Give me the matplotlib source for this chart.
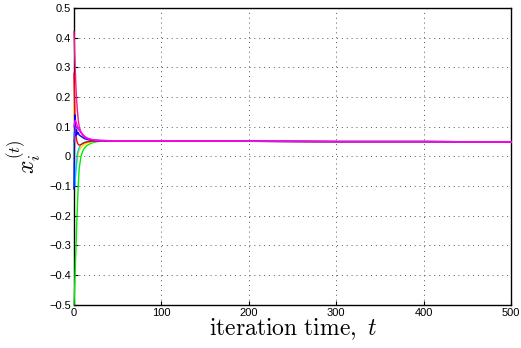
import matplotlib
matplotlib.use("Agg")
import matplotlib.pyplot as plt

plt.rcParams['mathtext.fontset'] = 'cm'
plt.rcParams['font.family'] = ['Liberation Sans', 'DejaVu Sans']

# iteration steps (sampled) and the trajectories of each node's estimate
t = [0, 1, 2, 3, 4, 5, 6, 8, 10, 12, 15, 20, 25, 30, 40, 60, 100, 200, 300, 400, 500]

x_green   = [-0.50, -0.42, -0.33, -0.24, -0.16, -0.09, -0.04, 0.000, 0.018, 0.028, 0.037, 0.045, 0.049, 0.051, 0.052, 0.052, 0.052, 0.051, 0.050, 0.050, 0.049]
x_pink    = [0.42, 0.33, 0.25, 0.19, 0.15, 0.12, 0.100, 0.082, 0.072, 0.065, 0.060, 0.056, 0.054, 0.053, 0.052, 0.052, 0.052, 0.051, 0.050, 0.050, 0.049]
x_yellow  = [0.17, 0.06, 0.00, -0.03, -0.01, 0.010, 0.020, 0.030, 0.036, 0.040, 0.045, 0.049, 0.051, 0.052, 0.052, 0.052, 0.052, 0.051, 0.050, 0.050, 0.049]
x_cyan    = [0.08, -0.10, -0.06, -0.02, 0.010, 0.022, 0.030, 0.040, 0.045, 0.048, 0.050, 0.051, 0.052, 0.052, 0.052, 0.052, 0.052, 0.051, 0.050, 0.050, 0.049]
x_blue    = [-0.11, 0.14, 0.07, 0.09, 0.075, 0.08, 0.072, 0.068, 0.064, 0.060, 0.057, 0.054, 0.053, 0.053, 0.052, 0.052, 0.052, 0.051, 0.050, 0.050, 0.049]
x_red     = [0.28, 0.14, 0.08, 0.055, 0.045, 0.040, 0.038, 0.040, 0.043, 0.046, 0.049, 0.051, 0.052, 0.052, 0.052, 0.052, 0.052, 0.051, 0.050, 0.050, 0.049]
x_magenta = [0.10, 0.12, 0.12, 0.11, 0.10, 0.095, 0.090, 0.082, 0.075, 0.068, 0.062, 0.057, 0.055, 0.054, 0.053, 0.052, 0.052, 0.051, 0.050, 0.050, 0.049]
x_violet  = [0.05, 0.08, 0.10, 0.10, 0.095, 0.092, 0.088, 0.080, 0.072, 0.066, 0.061, 0.057, 0.055, 0.054, 0.053, 0.052, 0.052, 0.051, 0.050, 0.050, 0.049]

series = [
    (x_green, '#00ee00'),
    (x_yellow, '#ffdd00'),
    (x_cyan, '#00ccff'),
    (x_red, '#ff0000'),
    (x_blue, '#0000ff'),
    (x_violet, '#8a2be2'),
    (x_pink, '#ff1493'),
    (x_magenta, '#ff00ff'),
]

fig = plt.figure(figsize=(5.21, 3.48), dpi=100)
ax = fig.add_axes([0.142, 0.124, 0.839, 0.853])

for y, c in series:
    ax.plot(t, y, color=c, lw=1.0, zorder=3, clip_on=False)

ax.set_xlim(0, 500)
ax.set_ylim(-0.5, 0.5)
ax.set_xticks([0, 100, 200, 300, 400, 500])
ax.set_yticks([-0.5, -0.4, -0.3, -0.2, -0.1, 0, 0.1, 0.2, 0.3, 0.4, 0.5])
ax.set_yticklabels(['\u22120.5', '\u22120.4', '\u22120.3', '\u22120.2', '\u22120.1', '0',
                    '0.1', '0.2', '0.3', '0.4', '0.5'])
ax.tick_params(direction='in', labelsize=8, length=3, width=0.8, pad=2)
ax.grid(True, color='#555555', linestyle=(0, (1, 4)), linewidth=0.7)
for s in ax.spines.values():
    s.set_linewidth(1.0)

ax.set_xlabel(r'$\mathrm{iteration\ time,}\ t$', fontsize=17, labelpad=-1)
ax.set_ylabel(r'$x_i^{(t)}$', fontsize=17, labelpad=4)

fig.savefig('out.png', dpi=100)
